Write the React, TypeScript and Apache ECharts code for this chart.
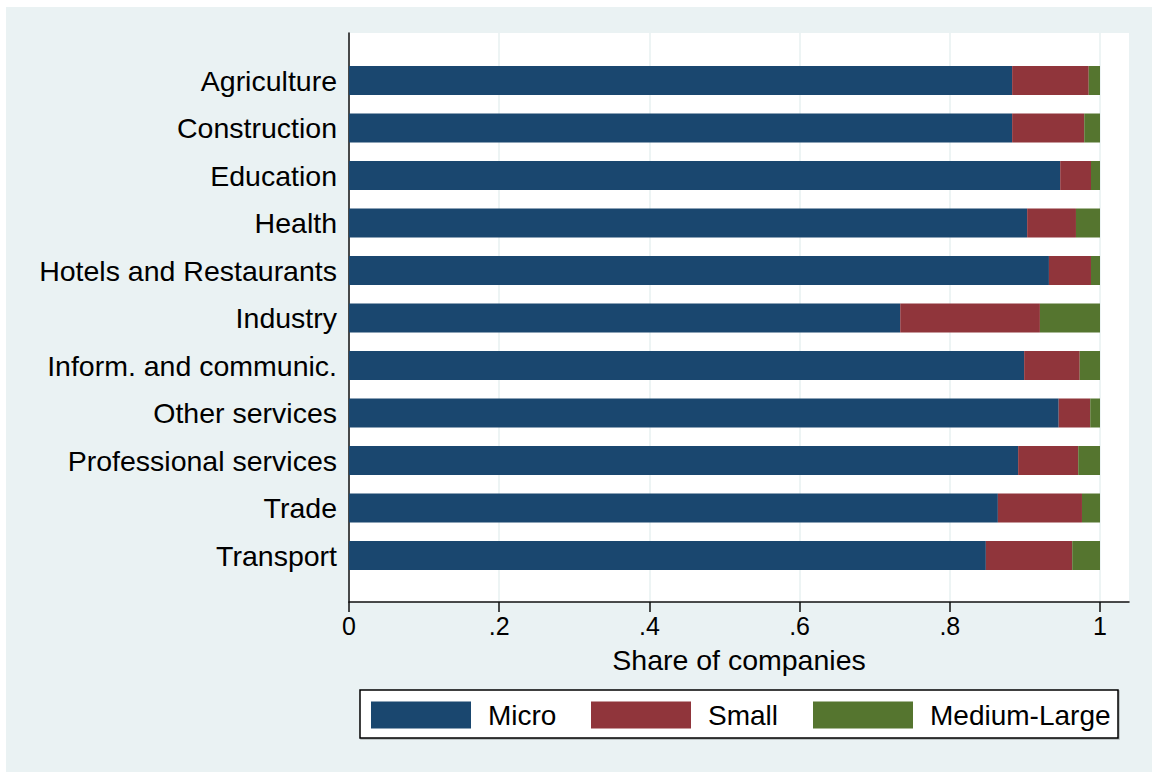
import React, { useEffect, useRef } from "react";
import * as echarts from "echarts";

const categories = [
  "Agriculture",
  "Construction",
  "Education",
  "Health",
  "Hotels and Restaurants",
  "Industry",
  "Inform. and communic.",
  "Other services",
  "Professional services",
  "Trade",
  "Transport",
];
const micro = [0.883, 0.883, 0.947, 0.903, 0.932, 0.734, 0.899, 0.945, 0.891, 0.864, 0.848];
const small = [0.102, 0.096, 0.041, 0.065, 0.056, 0.186, 0.074, 0.042, 0.080, 0.112, 0.115];
const mediumLarge = [0.015, 0.021, 0.012, 0.032, 0.012, 0.080, 0.027, 0.013, 0.029, 0.024, 0.037];
const tickValues = [0, 0.2, 0.4, 0.6, 0.8, 1];
const seriesNames = ["Micro", "Small", "Medium-Large"];

const FONT = "'Liberation Sans', Arial, Helvetica, sans-serif";
const BG = "#EAF2F3";
const COLORS = ["#1A476F", "#90353B", "#55752F"];

export default function App() {
  const ref = useRef<HTMLDivElement>(null);
  useEffect(() => {
    document.body.style.margin = "0";
    if (!ref.current) return;
    const chart = echarts.init(ref.current, null, { renderer: "svg" });
    const left = 349;
    const width = 780;
    const xMax = width / 751;
    const fmt = (v: number) => {
      if (v === 0) return "0";
      if (Math.abs(v - 1) < 1e-9) return "1";
      return v.toFixed(1).replace(/^0/, "");
    };
    const data = [micro, small, mediumLarge];
    chart.setOption({
      animation: false,
      backgroundColor: "#ffffff",
      textStyle: { fontFamily: FONT },
      graphic: [
        {
          type: "rect",
          z: -100,
          shape: { x: 6, y: 7, width: 1146, height: 765 },
          style: { fill: BG },
        },
        {
          type: "rect",
          z: 1,
          shape: { x: 360, y: 690, width: 758, height: 48 },
          style: { fill: "#ffffff", stroke: "#000000", lineWidth: 1.5, shadowColor: "rgba(0,0,0,0.25)", shadowOffsetX: 1, shadowOffsetY: 1, shadowBlur: 1 },
        },
      ],
      grid: [
        {
          left,
          width,
          top: 33,
          bottom: 170,
          show: true,
          backgroundColor: "#ffffff",
          borderWidth: 0,
        },
        {
          left,
          width,
          top: 56.75,
          bottom: 192.75,
        },
      ],
      xAxis: [
        {
          gridIndex: 0,
          type: "value",
          min: 0,
          max: xMax,
          interval: 0.2,
          name: "Share of companies",
          nameLocation: "middle",
          nameGap: 43,
          nameTextStyle: { fontSize: 28.5, color: "#000", fontFamily: FONT },
          axisLine: { show: true, lineStyle: { color: "#111", width: 1.5 } },
          axisTick: {
            show: true,
            length: 10,
            lineStyle: { color: "#111", width: 1.5 },
            customValues: tickValues,
          },
          axisLabel: {
            show: true,
            fontSize: 25,
            color: "#000",
            margin: 11,
            fontFamily: FONT,
            customValues: tickValues,
            formatter: fmt,
          },
          splitLine: { show: true, lineStyle: { color: BG, width: 1.7 } },
        },
        {
          gridIndex: 1,
          type: "value",
          min: 0,
          max: xMax,
          show: false,
        },
      ],
      yAxis: [
        {
          gridIndex: 0,
          type: "value",
          axisLine: { show: true, lineStyle: { color: "#111", width: 1.5 } },
          axisTick: { show: false },
          axisLabel: { show: false },
          splitLine: { show: false },
        },
        {
          gridIndex: 1,
          type: "category",
          inverse: true,
          data: categories,
          axisLine: { show: false },
          axisTick: { show: false },
          splitLine: { show: false },
          axisLabel: { fontSize: 28.5, color: "#000", margin: 12, fontFamily: FONT },
        },
      ],
      legend: seriesNames.map((n, i) => ({
        data: [n],
        left: [371, 591, 813][i],
        top: 701,
        padding: 0,
        icon: "rect",
        itemWidth: 100,
        itemHeight: 27,
        selectedMode: false,
        textStyle: { fontSize: 28, color: "#000", fontFamily: FONT, padding: [0, 0, 0, 12] },
      })),
      series: seriesNames.map((n, i) => ({
        name: n,
        type: "bar",
        stack: "total",
        xAxisIndex: 1,
        yAxisIndex: 1,
        barWidth: 29,
        itemStyle: { color: COLORS[i] },
        data: data[i],
      })),
    });
    return () => chart.dispose();
  }, []);
  return <div ref={ref} style={{ width: 1152, height: 772 }} />;
}
